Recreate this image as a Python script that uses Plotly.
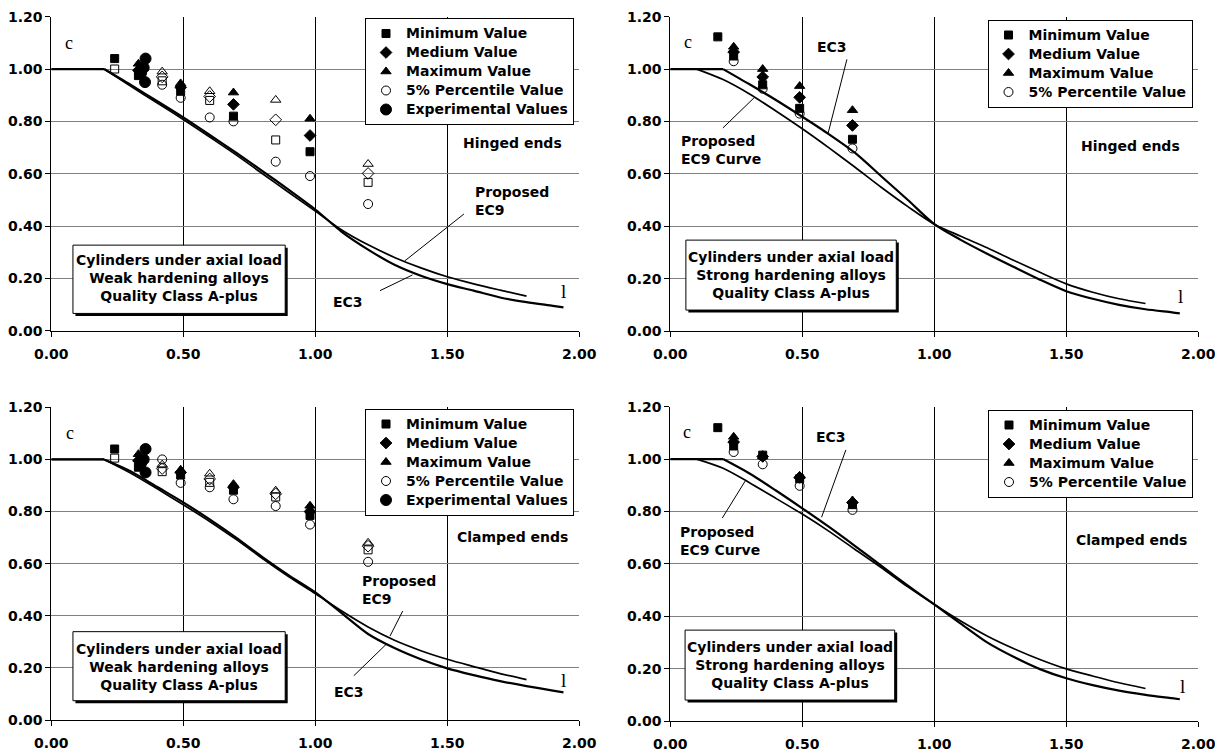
import plotly.graph_objects as go

# ---------------- data ----------------
CURVE_X = [0, 0.1, 0.2, 0.3, 0.4, 0.5, 0.6, 0.7, 0.8, 0.9, 1.0, 1.1, 1.2, 1.3, 1.4, 1.5, 1.6, 1.7, 1.8]

# Top-left: weak hardening, hinged ends
TL_EC3_X = CURVE_X + [1.9, 1.94]
TL_EC3_Y = [1.0, 1.0, 1.0, 0.94, 0.878, 0.815, 0.748, 0.68, 0.61, 0.538, 0.463, 0.378, 0.31, 0.252, 0.21, 0.178, 0.153, 0.127, 0.109, 0.095, 0.089]
TL_EC9_Y = [1.0, 1.0, 1.0, 0.935, 0.871, 0.807, 0.74, 0.672, 0.60, 0.528, 0.457, 0.385, 0.328, 0.28, 0.24, 0.206, 0.179, 0.155, 0.132]
# Top-right: strong hardening, hinged ends
TR_EC3_X = CURVE_X + [1.9, 1.93]
TR_EC3_Y = [1.0, 1.0, 1.0, 0.942, 0.882, 0.818, 0.752, 0.68, 0.59, 0.5, 0.408, 0.348, 0.295, 0.245, 0.196, 0.152, 0.123, 0.1, 0.083, 0.071, 0.067]
TR_EC9_Y = [1.0, 1.0, 0.96, 0.905, 0.84, 0.772, 0.70, 0.625, 0.548, 0.475, 0.408, 0.362, 0.318, 0.27, 0.224, 0.18, 0.148, 0.123, 0.105]
# Bottom-left: weak hardening, clamped ends
BL_EC3_X = CURVE_X + [1.9, 1.94]
BL_EC3_Y = [1.0, 1.0, 1.0, 0.955, 0.895, 0.835, 0.77, 0.70, 0.625, 0.555, 0.49, 0.41, 0.33, 0.276, 0.233, 0.198, 0.172, 0.149, 0.13, 0.113, 0.106]
BL_EC9_Y = [1.0, 1.0, 1.0, 0.948, 0.888, 0.826, 0.762, 0.693, 0.62, 0.55, 0.485, 0.418, 0.357, 0.306, 0.266, 0.233, 0.205, 0.178, 0.155]
# Bottom-right: strong hardening, clamped ends
BR_EC3_X = CURVE_X + [1.9, 1.93]
BR_EC3_Y = [1.0, 1.0, 1.0, 0.945, 0.88, 0.812, 0.742, 0.668, 0.592, 0.517, 0.445, 0.372, 0.30, 0.245, 0.198, 0.163, 0.137, 0.116, 0.1, 0.087, 0.083]
BR_EC9_Y = [1.0, 1.0, 0.965, 0.91, 0.85, 0.79, 0.725, 0.655, 0.585, 0.512, 0.445, 0.382, 0.325, 0.277, 0.235, 0.199, 0.172, 0.146, 0.124]

# Markers: group A (filled), group B (hollow)
TL_A_X = [0.24, 0.33, 0.49, 0.69, 0.98]
TL_A_MIN = [1.04, 0.975, 0.915, 0.82, 0.684]
TL_A_MED = [None, 0.995, 0.93, 0.865, 0.746]
TL_A_MAX = [None, 1.02, 0.945, 0.91, 0.81]
TL_A_P5 = [None, None, 0.89, 0.80, 0.591]
TL_B_X = [0.24, 0.42, 0.60, 0.85, 1.20]
TL_B_MIN = [1.00, 0.955, 0.88, 0.729, 0.567]
TL_B_MED = [None, 0.97, 0.895, 0.806, 0.601]
TL_B_MAX = [None, 0.99, 0.915, 0.882, 0.637]
TL_B_P5 = [None, 0.94, 0.815, 0.646, 0.484]
TL_EXP_X = [0.357, 0.350, 0.340, 0.355]
TL_EXP_Y = [1.04, 1.005, 0.985, 0.95]

TR_X = [0.18, 0.24, 0.35, 0.49, 0.69]
TR_MIN = [1.123, 1.05, 0.94, 0.85, 0.732]
TR_MED = [None, 1.065, 0.97, 0.892, 0.785]
TR_MAX = [None, 1.085, 1.0, 0.935, 0.843]
TR_P5 = [None, 1.03, 0.925, 0.83, 0.697]

BL_A_X = [0.24, 0.33, 0.49, 0.69, 0.98]
BL_A_MIN = [1.04, 0.97, 0.94, 0.882, 0.785]
BL_A_MED = [None, 0.995, 0.95, 0.893, 0.80]
BL_A_MAX = [None, 1.02, 0.96, 0.905, 0.822]
BL_A_P5 = [None, None, 0.91, 0.847, 0.75]
BL_B_X = [0.24, 0.42, 0.60, 0.85, 1.20]
BL_B_MIN = [1.005, 0.953, 0.912, 0.856, 0.653]
BL_B_MED = [None, 0.965, 0.925, 0.868, 0.667]
BL_B_MAX = [None, 0.98, 0.945, 0.88, 0.68]
BL_B_P5 = [None, 1.0, 0.893, 0.821, 0.607]
BL_EXP_X = [0.357, 0.350, 0.340, 0.357]
BL_EXP_Y = [1.04, 1.0, 0.985, 0.95]

BR_X = [0.18, 0.24, 0.35, 0.49, 0.69]
BR_MIN = [1.12, 1.05, 1.015, 0.925, 0.826]
BR_MED = [None, 1.065, 1.01, 0.93, 0.834]
BR_MAX = [None, 1.085, 1.01, 0.935, 0.842]
BR_P5 = [None, 1.027, 0.98, 0.898, 0.806]

X_TICKS = [0, 0.5, 1.0, 1.5, 2.0]
Y_TICKS = [0, 0.2, 0.4, 0.6, 0.8, 1.0, 1.2]

# ---------------- layout helpers ----------------
# The page body adds an 8 px offset, so the figure is 8 px smaller and all
# pixel positions below are given relative to the reference minus 8 px.
OFF = 8
W, H = 1223 - OFF, 754 - OFF
FONT = "DejaVu Sans"
SERIF = "Liberation Serif"

def dx(a, b):
    return [(a - OFF) / W, (b - OFF) / W]

def dy(top, bottom):
    return [1 - (bottom - OFF) / H, 1 - (top - OFF) / H]

PANELS = [
    dict(n="", xd=dx(51.3, 579.3), yd=dy(16.7, 330.7), leg="legend", lx=574.0, ly=18.0),
    dict(n="2", xd=dx(670.3, 1198.3), yd=dy(16.7, 331.0), leg="legend2", lx=1192.5, ly=19.5),
    dict(n="3", xd=dx(51.3, 579.3), yd=dy(407.3, 720.0), leg="legend3", lx=574.0, ly=408.5),
    dict(n="4", xd=dx(670.3, 1198.3), yd=dy(406.7, 721.0), leg="legend4", lx=1193.0, ly=409.5),
]

fig = go.Figure()

def curve(p, xs, ys, width):
    # flat plateau drawn straight, descending branch smoothed
    k = max(i for i, v in enumerate(ys) if v >= 1.0)
    common = dict(mode="lines", showlegend=False, hoverinfo="skip",
                  xaxis="x" + p["n"], yaxis="y" + p["n"])
    fig.add_trace(go.Scatter(x=xs[:k + 1], y=ys[:k + 1],
                             line=dict(color="black", width=width), **common))
    fig.add_trace(go.Scatter(x=xs[k:], y=ys[k:],
                             line=dict(color="black", width=width, shape="spline", smoothing=0.8),
                             **common))

def marks(p, xs, ys, symbol, size, name=None, rank=None):
    label_txt = '<span style="font-size:14px">%s</span>' % name if name else ""
    fig.add_trace(go.Scatter(
        x=xs, y=ys, mode="markers", name=label_txt,
        showlegend=name is not None, legend=p["leg"], legendrank=rank if rank else 1000,
        marker=dict(symbol=symbol, size=size, color="black",
                    line=dict(color="black", width=1)),
        xaxis="x" + p["n"], yaxis="y" + p["n"], hoverinfo="skip"))

def panel_markers(p, ax, amin, amed, amax, ap5, bx=None, bmin=None, bmed=None, bmax=None, bp5=None,
                  ex=None, ey=None):
    # 5% values drawn first (underneath)
    marks(p, ax, ap5, "circle-open", 9, "5% Percentile Value", 4)
    if bx is not None:
        marks(p, bx, bp5, "circle-open", 9)
    marks(p, ax, amin, "square", 8, "Minimum Value", 1)
    marks(p, ax, amed, "diamond", 9, "Medium Value", 2)
    marks(p, ax, amax, "triangle-up", 9, "Maximum Value", 3)
    if bx is not None:
        marks(p, bx, bmin, "square-open", 8)
        marks(p, bx, bmed, "diamond-open", 9)
        marks(p, bx, bmax, "triangle-up-open", 9)
    if ex is not None:
        marks(p, ex, ey, "circle", 11, "Experimental Values", 5)

P1, P2, P3, P4 = PANELS
curve(P1, TL_EC3_X, TL_EC3_Y, 2.2)
curve(P1, CURVE_X, TL_EC9_Y, 1.7)
curve(P2, TR_EC3_X, TR_EC3_Y, 2.2)
curve(P2, CURVE_X, TR_EC9_Y, 1.7)
curve(P3, BL_EC3_X, BL_EC3_Y, 2.2)
curve(P3, CURVE_X, BL_EC9_Y, 1.7)
curve(P4, BR_EC3_X, BR_EC3_Y, 2.2)
curve(P4, CURVE_X, BR_EC9_Y, 1.7)

panel_markers(P1, TL_A_X, TL_A_MIN, TL_A_MED, TL_A_MAX, TL_A_P5,
              TL_B_X, TL_B_MIN, TL_B_MED, TL_B_MAX, TL_B_P5, TL_EXP_X, TL_EXP_Y)
panel_markers(P2, TR_X, TR_MIN, TR_MED, TR_MAX, TR_P5)
panel_markers(P3, BL_A_X, BL_A_MIN, BL_A_MED, BL_A_MAX, BL_A_P5,
              BL_B_X, BL_B_MIN, BL_B_MED, BL_B_MAX, BL_B_P5, BL_EXP_X, BL_EXP_Y)
panel_markers(P4, BR_X, BR_MIN, BR_MED, BR_MAX, BR_P5)

layout = dict(width=W, height=H, margin=dict(l=0, r=0, t=0, b=0, autoexpand=False),
              paper_bgcolor="white", plot_bgcolor="white",
              font=dict(family=FONT, size=14, color="black"))

tickfont = dict(family=FONT, size=14, color="black", weight="bold")
for p in PANELS:
    n = p["n"]
    layout["xaxis" + n] = dict(domain=p["xd"], anchor="y" + n, range=[0, 2], tickvals=X_TICKS,
                               tickformat=".2f", showgrid=True, gridcolor="black", gridwidth=1,
                               zeroline=False, showline=True, linecolor="black", linewidth=1,
                               ticks="outside", ticklen=5, tickcolor="black", tickfont=tickfont,
                               ticklabelstandoff=5, fixedrange=True, automargin=False)
    layout["yaxis" + n] = dict(domain=p["yd"], anchor="x" + n, range=[0, 1.2], tickvals=Y_TICKS,
                               tickformat=".2f", showgrid=True, gridcolor="#808080", gridwidth=1,
                               zeroline=False, showline=True, linecolor="black", linewidth=1,
                               ticks="outside", ticklen=5, tickcolor="black", tickfont=tickfont,
                               fixedrange=True, automargin=False)
    layout[p["leg"]] = dict(x=(p["lx"] - OFF) / W, y=1 - (p["ly"] - OFF) / H,
                            xanchor="right", yanchor="top",
                            bgcolor="white", bordercolor="black", borderwidth=1,
                            font=dict(family=FONT, size=12, color="black", weight="bold"),
                            traceorder="normal", itemwidth=30)
fig.update_layout(**layout)

# ---------------- annotations, boxes, pointer lines ----------------
SX, SY = 2.5 / 264, 2.5 / 262

def box(p, x0, x1, y0, y1, text, tx, ty):
    xr, yr = "x" + p["n"], "y" + p["n"]
    fig.add_shape(type="rect", xref=xr, yref=yr, x0=x0 + SX, x1=x1 + SX, y0=y0 - SY, y1=y1 - SY,
                  fillcolor="black", line=dict(width=0), layer="above")
    fig.add_shape(type="rect", xref=xr, yref=yr, x0=x0, x1=x1, y0=y0, y1=y1,
                  fillcolor="white", line=dict(color="black", width=1), layer="above")
    fig.add_annotation(xref=xr, yref=yr, x=tx, y=ty, text=text, showarrow=False,
                       font=dict(family=FONT, size=14, color="black", weight="bold"), align="center")

def label(p, x, y, text, anchor="center", align="center"):
    fig.add_annotation(xref="x" + p["n"], yref="y" + p["n"], x=x, y=y, text=text, showarrow=False,
                       xanchor=anchor, align=align,
                       font=dict(family=FONT, size=14, color="black", weight="bold"))

def sym(p, x, y, text, size):
    fig.add_annotation(xref="x" + p["n"], yref="y" + p["n"], x=x, y=y, text=text, showarrow=False,
                       font=dict(family=SERIF, size=size, color="black"))

def pointer(p, x0, y0, x1, y1):
    fig.add_shape(type="line", xref="x" + p["n"], yref="y" + p["n"], x0=x0, y0=y0, x1=x1, y1=y1,
                  line=dict(color="black", width=1))

# Top-left
sym(P1, 0.067, 1.10, "c", 18)
sym(P1, 1.94, 0.15, "l", 19)
label(P1, 1.747, 0.718, "Hinged ends")
label(P1, 1.596, 0.494, "Proposed<br>EC9", anchor="left", align="left")
label(P1, 1.124, 0.111, "EC3")
pointer(P1, 1.563, 0.446, 1.338, 0.266)
pointer(P1, 1.245, 0.153, 1.368, 0.213)
box(P1, 0.082, 0.886, 0.066, 0.327,
    "Cylinders under axial load<br>Weak hardening alloys<br>Quality Class A-plus", 0.484, 0.203)

# Top-right
sym(P2, 0.066, 1.105, "c", 18)
sym(P2, 1.934, 0.132, "l", 19)
label(P2, 0.613, 1.086, "EC3")
pointer(P2, 0.669, 1.037, 0.598, 0.756)
label(P2, 0.032, 0.69, "Proposed<br>EC9 Curve", anchor="left", align="left")
pointer(P2, 0.199, 0.775, 0.317, 0.89)
label(P2, 1.742, 0.705, "Hinged ends")
box(P2, 0.059, 0.856, 0.08, 0.347,
    "Cylinders under axial load<br>Strong hardening alloys<br>Quality Class A-plus", 0.458, 0.215)

# Bottom-left
sym(P3, 0.071, 1.10, "c", 18)
sym(P3, 1.94, 0.152, "l", 19)
label(P3, 1.747, 0.701, "Clamped ends")
label(P3, 1.17, 0.499, "Proposed<br>EC9", anchor="left", align="left")
pointer(P3, 1.331, 0.418, 1.283, 0.322)
label(P3, 1.127, 0.109, "EC3")
pointer(P3, 1.146, 0.17, 1.268, 0.29)
box(P3, 0.082, 0.886, 0.074, 0.339,
    "Cylinders under axial load<br>Weak hardening alloys<br>Quality Class A-plus", 0.484, 0.205)

# Bottom-right
sym(P4, 0.064, 1.105, "c", 18)
sym(P4, 1.94, 0.132, "l", 19)
label(P4, 0.61, 1.086, "EC3")
pointer(P4, 0.665, 1.035, 0.573, 0.778)
label(P4, 0.03, 0.688, "Proposed<br>EC9 Curve", anchor="left", align="left")
pointer(P4, 0.197, 0.775, 0.286, 0.92)
label(P4, 1.748, 0.692, "Clamped ends")
box(P4, 0.056, 0.85, 0.08, 0.347,
    "Cylinders under axial load<br>Strong hardening alloys<br>Quality Class A-plus", 0.453, 0.213)

fig.write_html("out.html")
